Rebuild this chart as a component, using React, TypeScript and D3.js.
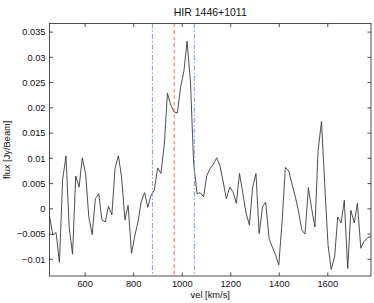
import * as d3 from 'd3'

// spectrum
const vel = [
    453, 467, 480, 494, 507, 521, 534, 548, 561, 575, 588, 602, 615, 629, 642, 656,
    669, 683, 696, 710, 723, 737, 750, 764, 777, 791, 804, 818, 831, 845, 858, 872,
    885, 899, 912, 926, 939, 953, 966, 980, 993, 1007, 1020, 1034, 1047, 1061, 1074,
    1088, 1101, 1115, 1128, 1142, 1155, 1169, 1182, 1196, 1209, 1223, 1236, 1250,
    1263, 1277, 1290, 1304, 1317, 1331, 1344, 1358, 1371, 1385, 1398, 1412, 1425,
    1439, 1452, 1466, 1479, 1493, 1506, 1520, 1533, 1547, 1560, 1574, 1587, 1601,
    1614, 1628, 1641, 1655, 1668, 1682, 1695, 1709, 1722, 1736, 1749, 1763, 1777,
]
const flux = [
    -0.0015, -0.0052, -0.0047, -0.0106, 0.0057, 0.0105, -0.0036, -0.009, 0.0065, 0.0043,
    0.0101, 0.0069, -0.0016, -0.0051, 0.002, 0.003, -0.0022, -0.0026, 0.0005, -0.0012,
    0.008, 0.0105, 0.0063, -0.0022, 0.0007, -0.0088, -0.0055, -0.0025, 0.0014, 0.0032,
    0.0003, 0.0027, 0.0037, 0.0081, 0.007, 0.0126, 0.0229, 0.0205, 0.0192, 0.019,
    0.024, 0.0273, 0.0332, 0.0251, 0.009, 0.003, 0.0032, 0.0024, 0.0065, 0.008, 0.0088,
    0.0101, 0.0086, 0.0053, 0.002, 0.0043, 0.0034, 0.0011, 0.007, 0.003, -0.0008,
    -0.0032, 0.0042, 0.007, -0.0049, 0.0004, 0.0013, -0.0059, -0.0075, -0.0092, -0.0111,
    -0.0022, 0.0082, 0.0075, 0.005, 0.0024, -0.0004, -0.0042, -0.005, 0.0042, 0.0001,
    -0.0036, 0.0116, 0.0173, 0.005, -0.0072, -0.012, -0.0095, -0.0016, -0.0028, 0.0017,
    -0.0118, -0.0003, -0.0028, 0.0011, -0.0078, -0.0065, -0.0057, -0.0055, -0.0049, 0.0018,
]
const blueLines = [877, 1050]
const redLines = [967]
const xTicks = [600, 800, 1000, 1200, 1400, 1600]
const yTicks = [-0.01, -0.005, 0, 0.005, 0.01, 0.015, 0.02, 0.025, 0.03, 0.035]

const W = 374
const H = 303
const margin = { top: 23.5, right: 3, bottom: 27, left: 49.5 }
const font = '"Liberation Sans", Arial, sans-serif'

export default function App() {
    const x = d3.scaleLinear().domain([453, 1778]).range([margin.left, W - margin.right])
    const y = d3.scaleLinear().domain([-0.0133, 0.0367]).range([H - margin.bottom, margin.top])
    const pts = vel.map((v, i) => [v, flux[i]] as [number, number])
    const line = d3.line<[number, number]>().x(d => x(d[0])).y(d => y(d[1]))
    const [x0, x1] = x.range()
    const [y0, y1] = y.range()
    const fmt = (t: number) => (t < 0 ? '\u2212' : '') + String(Math.abs(t))

    return (
        <svg width={W} height={H} style={{ position: 'absolute', top: 0, left: 0, background: '#fff' }}>
            <defs>
                <clipPath id='plot'>
                    <rect x={x0} y={y1} width={x1 - x0} height={y0 - y1} />
                </clipPath>
            </defs>
            <g clipPath='url(#plot)'>
                <path d={line(pts) ?? ''} fill='none' stroke='#3a3a3a' strokeWidth={0.9} />
                {blueLines.map(v => (
                    <line key={v} x1={x(v)} x2={x(v)} y1={y1} y2={y0}
                        stroke='#7d95ff' strokeWidth={1} strokeDasharray='5,2,1.5,2' />
                ))}
                {redLines.map(v => (
                    <line key={v} x1={x(v)} x2={x(v)} y1={y1} y2={y0}
                        stroke='#ff6b6b' strokeWidth={1} strokeDasharray='4,2.5' />
                ))}
            </g>
            {/* box with inward ticks on all four sides */}
            <rect x={x0} y={y1} width={x1 - x0} height={y0 - y1} fill='none' stroke='#222' strokeWidth={0.8} />
            {xTicks.map(t => (
                <g key={t}>
                    <line x1={x(t)} x2={x(t)} y1={y0} y2={y0 - 3.5} stroke='#222' strokeWidth={0.8} />
                    <line x1={x(t)} x2={x(t)} y1={y1} y2={y1 + 3.5} stroke='#222' strokeWidth={0.8} />
                    <text x={x(t)} y={y0 + 11} textAnchor='middle' fontSize={9.3} fontFamily={font} fill='#111'>{t}</text>
                </g>
            ))}
            {yTicks.map(t => (
                <g key={t}>
                    <line x1={x0} x2={x0 + 3.5} y1={y(t)} y2={y(t)} stroke='#222' strokeWidth={0.8} />
                    <line x1={x1} x2={x1 - 3.5} y1={y(t)} y2={y(t)} stroke='#222' strokeWidth={0.8} />
                    <text x={x0 - 4} y={y(t) + 3.3} textAnchor='end' fontSize={9.3} fontFamily={font} fill='#111'>{fmt(t)}</text>
                </g>
            ))}
            <text x={(x0 + x1) / 2} y={16} textAnchor='middle' fontSize={10.5} fontFamily={font} fill='#111'>HIR 1446+1011</text>
            <text x={(x0 + x1) / 2} y={298} textAnchor='middle' fontSize={9.3} fontFamily={font} fill='#111'>vel [km/s]</text>
            <text transform={`translate(10,${(y0 + y1) / 2}) rotate(-90)`} textAnchor='middle' fontSize={9.3} fontFamily={font} fill='#111'>flux [Jy/Beam]</text>
        </svg>
    )
}
